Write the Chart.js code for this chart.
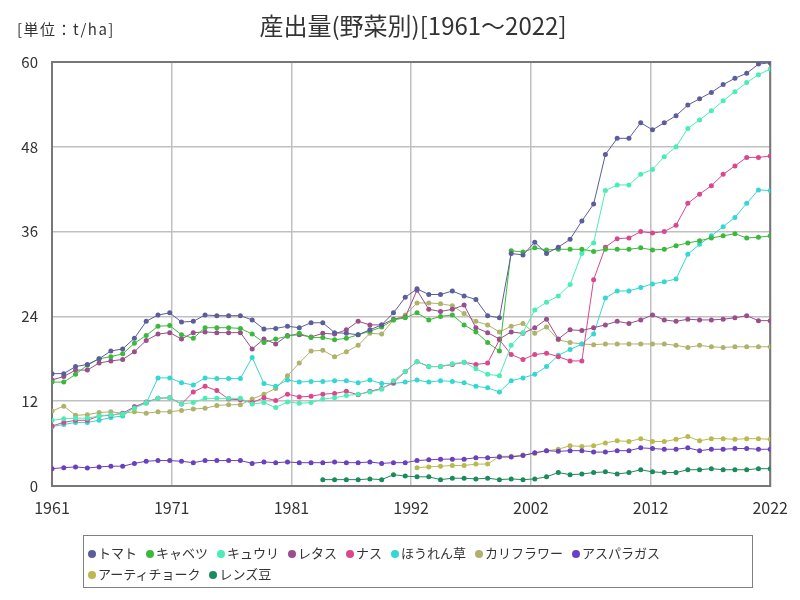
<!DOCTYPE html>
<html lang="ja">
<head>
<meta charset="UTF-8">
<title>産出量(野菜別)</title>
<script src="https://cdn.jsdelivr.net/npm/chart.js"></script>
<style>
  body { margin: 0; background: #fff; }
  .wrap { position: relative; width: 800px; height: 600px; }
  #legend {
    position: absolute; left: 83px; top: 535px; width: 670px; height: 53px;
    border: 1px solid #808080; box-sizing: border-box;
    padding: 6px 0 0 4px;
    font-family: "Noto Sans CJK JP", sans-serif; font-size: 13px; color: #333;
    line-height: 21px;
  }
  #legend span.item { display: inline-block; margin-right: 9px; white-space: nowrap; }
  #legend span.dot {
    display: inline-block; width: 8px; height: 8px; border-radius: 50%;
    margin-right: 2px; vertical-align: 0px;
  }
</style>
</head>
<body>
<div class="wrap">
  <canvas id="c" width="800" height="600"></canvas>
  <div id="legend"></div>
</div>
<script>
// data (t/ha)
const years = [1961,1962,1963,1964,1965,1966,1967,1968,1969,1970,1971,1972,1973,1974,1975,1976,1977,1978,1979,1980,
  1981,1982,1983,1984,1985,1986,1987,1988,1989,1990,1991,1992,1993,1994,1995,1996,1997,1998,1999,2000,
  2001,2002,2003,2004,2005,2006,2007,2008,2009,2010,2011,2012,2013,2014,2015,2016,2017,2018,2019,2020,2021,2022];

const tomato = [15.9,15.9,16.9,17.2,18.0,19.1,19.4,20.9,23.3,24.2,24.5,23.2,23.3,24.2,24.1,24.1,24.1,23.5,22.2,22.3,22.6,
  22.4,23.1,23.1,21.7,21.6,21.4,22.1,22.8,24.5,26.7,27.9,27.1,27.1,27.6,26.9,26.4,24.1,23.8,
  32.9,32.7,34.5,32.9,33.8,34.9,37.5,39.9,46.9,49.2,49.2,51.4,50.4,51.4,52.4,53.9,54.8,55.7,56.8,57.7,58.4,59.7,59.9];
const cabbage = [14.7,14.7,15.8,17.1,18.0,18.3,18.7,20.2,21.3,22.6,22.7,21.4,20.9,22.4,22.4,22.4,22.3,21.5,20.3,20.8,21.2,
  21.6,21.0,21.0,20.7,20.9,21.4,21.9,22.5,23.5,23.8,24.5,23.5,24.0,24.2,22.8,21.8,20.3,19.1,
  33.3,33.1,33.7,33.4,33.5,33.5,33.5,33.2,33.5,33.5,33.5,33.7,33.4,33.5,34.0,34.4,34.7,35.1,35.4,35.7,35.1,35.2,35.4];
const cucumber = [9.3,9.5,9.6,9.6,9.9,10.1,10.2,11.0,11.8,12.4,12.5,11.6,11.8,12.4,12.4,12.4,12.4,11.6,11.8,11.1,11.9,
  11.7,11.8,12.3,12.5,12.8,13.0,13.3,13.7,14.9,16.2,17.6,16.9,16.9,17.3,17.5,16.6,15.8,15.6,
  19.9,21.7,24.9,26.0,26.9,28.5,32.9,34.4,41.8,42.6,42.6,44.1,44.8,46.6,48.0,50.6,51.8,53.1,54.5,55.8,57.1,58.2,59.0];
const lettuce = [15.0,15.5,16.4,16.4,17.4,17.7,17.9,19.0,20.6,21.5,21.7,20.8,21.7,21.8,21.7,21.7,21.7,19.4,20.8,20.1,21.3,
  21.4,21.1,21.6,21.5,22.1,23.3,22.8,22.8,23.6,23.9,27.7,25.0,24.7,25.0,25.6,22.4,21.7,20.8,
  21.8,21.6,22.4,23.6,20.8,22.1,22.0,22.4,22.8,23.3,23.0,23.5,24.2,23.5,23.3,23.6,23.5,23.5,23.6,23.8,24.1,23.4,23.4];
const eggplant = [8.5,9.0,9.3,9.3,9.9,10.0,10.3,11.2,11.9,12.4,12.5,11.6,13.3,14.1,13.5,12.3,12.2,11.8,12.5,12.1,13.0,
  12.6,12.7,13.0,13.1,13.4,12.9,13.4,13.8,14.6,16.2,17.6,16.9,16.9,17.2,17.5,17.2,17.4,20.7,
  18.6,17.9,18.6,18.8,18.3,17.7,17.7,29.2,33.8,35.0,35.1,36.0,35.8,36.0,36.9,40.0,41.3,42.5,44.1,45.3,46.5,46.5,46.7];
const spinach = [8.4,8.7,9.0,9.0,9.3,9.7,9.9,11.2,11.7,15.3,15.3,14.6,14.3,15.3,15.2,15.2,15.2,18.2,14.5,14.1,15.0,
  14.7,14.8,14.8,14.9,14.9,14.6,15.0,14.5,14.5,14.7,15.0,14.7,14.9,14.8,14.6,14.1,13.9,13.3,
  14.9,15.3,15.8,16.9,18.5,19.3,20.1,21.5,26.6,27.6,27.6,28.1,28.6,28.9,29.3,32.8,34.2,35.4,36.7,38.0,40.0,41.9,41.8];
const cauliflower = [10.6,11.3,10.0,10.1,10.4,10.5,10.3,10.5,10.3,10.5,10.5,10.7,10.9,11.0,11.4,11.5,11.5,12.3,13.0,13.8,15.6,
  17.4,19.1,19.2,18.3,19.0,19.9,21.6,21.5,23.5,24.2,25.9,25.9,25.8,25.5,24.4,23.3,22.8,21.8,
  22.6,23.0,21.6,22.5,20.7,20.3,20.1,20.0,20.1,20.1,20.1,20.1,20.1,20.1,19.9,19.6,19.9,19.7,19.6,19.7,19.7,19.7,19.7];
const asparagus = [2.45,2.6,2.7,2.55,2.7,2.8,2.8,3.2,3.5,3.6,3.6,3.5,3.3,3.6,3.6,3.6,3.6,3.2,3.4,3.3,3.4,
  3.3,3.3,3.3,3.4,3.3,3.3,3.4,3.2,3.3,3.3,3.6,3.7,3.8,3.8,3.8,4.0,4.0,4.1,
  4.1,4.3,4.7,5.0,4.9,5.0,5.0,4.8,4.8,5.0,5.0,5.4,5.3,5.2,5.2,5.4,5.0,5.2,5.2,5.3,5.3,5.2,5.2];
const artichoke = [null,null,null,null,null,null,null,null,null,null,null,null,null,null,null,null,null,null,null,null,
  null,null,null,null,null,null,null,null,null,null,null,
  2.6,2.7,2.8,2.9,2.9,3.1,3.1,4.2,
  4.2,4.4,4.6,5.0,5.2,5.7,5.6,5.7,6.1,6.4,6.3,6.7,6.3,6.3,6.6,7.0,6.4,6.7,6.7,6.6,6.7,6.7,6.6];
const lentils = [null,null,null,null,null,null,null,null,null,null,null,null,null,null,null,null,null,null,null,null,
  null,null,null,
  0.9,0.9,0.9,0.9,1.0,0.9,1.6,1.4,1.3,1.3,0.9,1.1,1.1,1.0,1.1,0.9,
  1.0,0.9,1.0,1.3,1.9,1.6,1.7,1.9,2.0,1.7,1.9,2.3,2.0,1.9,1.9,2.3,2.3,2.45,2.3,2.3,2.3,2.45,2.45];

const names = ['トマト','キャベツ','キュウリ','レタス','ナス','ほうれん草','カリフラワー','アスパラガス','アーティチョーク','レンズ豆'];
const series = [tomato, cabbage, cucumber, lettuce, eggplant, spinach, cauliflower, asparagus, artichoke, lentils];
const colors = ['#5c5e9c','#3cb93c','#4aeeb4','#9a4e8b','#d9488f','#34d8d2','#b0b16a','#6a40bf','#b8ba4c','#1b8b5c'];

const tickYears = [0,1,2,3,4,5,6].map(k => 1961 + k * (2022 - 1961) / 6);

const FONT = '"Noto Sans CJK JP", sans-serif';

const datasets = series.map((vals, i) => ({
  label: names[i],
  data: vals.map((v, j) => ({ x: years[j], y: v })),
  borderColor: colors[i],
  backgroundColor: colors[i],
  borderWidth: 1,
  pointRadius: 2.5,
  pointHoverRadius: 3,
  pointBorderWidth: 0,
  spanGaps: false,
  tension: 0
}));

// title, unit and outer frame
const decor = {
  id: 'decor',
  beforeDatasetsDraw(chart) {
    const { ctx, chartArea: a } = chart;
    ctx.save();
    ctx.strokeStyle = '#777';
    ctx.lineWidth = 2;
    ctx.strokeRect(a.left, a.top, a.right - a.left, a.bottom - a.top);
    ctx.restore();
  },
  afterDraw(chart) {
    const ctx = chart.ctx;
    ctx.save();
    ctx.fillStyle = '#333';
    ctx.textBaseline = 'middle';
    ctx.textAlign = 'center';
    ctx.font = '24px ' + FONT;
    ctx.fillText('産出量(野菜別)[1961～2022]', 413, 26);
    ctx.textAlign = 'left';
    ctx.font = '15px ' + FONT;
    ctx.letterSpacing = '1.5px';
    ctx.fillText('[単位：t/ha]', 17, 29);
    ctx.restore();
  }
};

const chart = new Chart(document.getElementById('c'), {
  type: 'line',
  data: { datasets },
  plugins: [decor],
  options: {
    responsive: false,
    animation: false,
    layout: { padding: { left: 0, right: 28, top: 62, bottom: 84 } },
    plugins: {
      legend: { display: false },
      title: { display: false },
      tooltip: { enabled: false }
    },
    scales: {
      x: {
        type: 'linear',
        min: 1961, max: 2022,
        afterBuildTicks: s => { s.ticks = tickYears.map(v => ({ value: v })); },
        afterFit: s => { s.height = 30; },
        grid: { color: '#c0c0c0', lineWidth: 1.5, drawTicks: false },
        border: { display: false },
        ticks: {
          padding: 12, color: '#333', maxRotation: 0, autoSkip: false,
          font: { family: FONT, size: 16 },
          callback: v => String(Math.round(v))
        }
      },
      y: {
        min: 0, max: 60,
        afterFit: s => { s.width = 52; },
        grid: { color: '#c0c0c0', lineWidth: 1.5, drawTicks: false },
        border: { display: false },
        ticks: {
          stepSize: 12, padding: 14, color: '#333',
          font: { family: FONT, size: 15 }
        }
      }
    }
  }
});

// legend box under the chart
const lg = document.getElementById('legend');
chart.data.datasets.forEach(ds => {
  const it = document.createElement('span');
  it.className = 'item';
  it.innerHTML = '<span class="dot" style="background:' + ds.borderColor + '"></span>' + ds.label;
  lg.appendChild(it);
});
</script>
</body>
</html>
